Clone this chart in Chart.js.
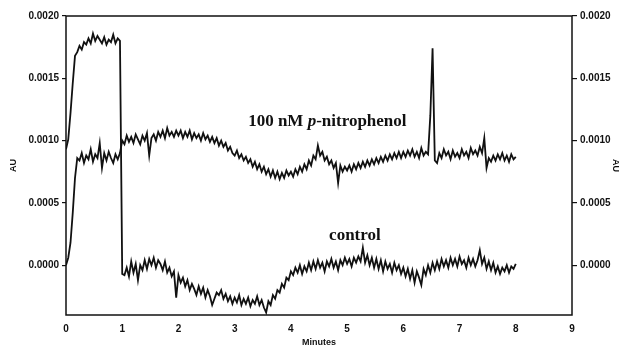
<!DOCTYPE html>
<html>
<head>
<meta charset="utf-8">
<script src="https://cdn.jsdelivr.net/npm/chart.js@4.4.0/dist/chart.umd.min.js"></script>
<style>
  html, body { margin: 0; padding: 0; background: #fff; }
  #wrap { width: 625px; height: 348px; position: relative; }
</style>
</head>
<body>
<div id="wrap"><canvas id="trace"></canvas></div>
<script>
// absorbance, in units of 1e-5 AU, one sample every 0.04 min (0 .. 8 min)
var sampleStep = 0.04;

var controlAU = [
  93,101,122,146,168,171,176,173,179,177,182,178,186,180,184,181,178,183,177,181,179,185,178,182,180,
  -7,-8,-2,-9,3,-6,1,-12,0,-4,4,-3,5,0,6,-2,4,1,-4,3,-6,-2,-9,-5,-26,
  -8,-14,-10,-17,-12,-20,-15,-19,-24,-17,-23,-18,-26,-20,-25,-32,-27,-22,-24,-20,-27,-23,-29,-25,-31,
  -26,-30,-24,-32,-27,-31,-26,-33,-28,-31,-25,-32,-28,-34,-38,-29,-32,-24,-27,-20,-22,-15,-18,-10,-12,
  -5,-8,-2,-6,0,-7,-1,-5,2,-4,3,-3,4,-2,2,-5,3,-1,5,-2,3,-4,4,0,6,
  1,5,-1,6,2,7,3,14,2,8,0,6,-2,5,-3,4,-5,3,-3,1,-6,2,-4,0,-7,
  -2,-9,-3,-11,-4,-14,-5,-10,-16,-3,-8,0,-6,2,-4,3,-3,5,-1,4,-2,6,0,5,-1,
  7,1,4,-2,6,0,5,-1,4,12,1,6,-3,3,-4,2,-6,-1,-7,-2,-5,0,-6,-1,-3,
  1
];

var nitrophenolAU = [
  0,6,18,42,70,86,84,90,82,88,85,93,83,89,86,98,78,90,84,91,86,82,89,85,90,
  100,97,104,99,103,98,105,101,97,104,100,106,88,102,105,100,107,103,108,102,110,104,107,103,108,
  104,108,102,107,103,108,101,106,102,105,100,106,101,104,99,103,98,102,96,100,95,98,92,95,90,
  88,92,86,89,84,87,82,85,79,83,77,81,75,79,73,77,71,76,70,75,69,74,70,76,72,
  75,71,77,73,79,75,81,77,84,80,88,85,96,88,91,84,87,81,84,78,82,66,80,75,79,
  76,80,75,81,77,82,78,83,79,84,80,85,81,86,82,87,83,88,84,89,85,90,86,91,86,
  91,87,92,88,93,87,91,86,94,88,91,89,120,174,84,82,90,86,93,88,91,85,92,87,90,
  86,93,88,91,86,94,89,92,88,95,90,102,78,86,83,88,84,89,85,90,84,88,83,89,85,
  87
];

var xTicks = [0, 1, 2, 3, 4, 5, 6, 7, 8, 9];
var yTicks = [0, 50, 100, 150, 200];

// labels on the traces, placed in data units (minutes, 1e-5 AU)
var nitroNote = [['100 nM ', 'bold'], ['p', 'italic bold'], ['-nitrophenol', 'bold']];
var nitroNoteAt = { x: 3.24, y: 112 };
var controlNote = [['control', 'bold']];
var controlNoteAt = { x: 4.68, y: 20 };

function toPoints(values) {
    return values.map(function (v, i) { return { x: +(i * sampleStep).toFixed(2), y: v }; });
}

var ink = '#111';
var tickFont = { family: '"Liberation Sans", Arial, sans-serif', size: 10, weight: 'bold' };
var titleFont = { family: '"Liberation Sans", Arial, sans-serif', size: 9, weight: 'bold' };

function auLabel(v) { return (v / 100000).toFixed(4); }
function keepTicks(list) {
    return function (scale) {
        scale.ticks = scale.ticks.filter(function (t) { return list.indexOf(t.value) !== -1; });
    };
}

var frameAndNotes = {
    id: 'frameAndNotes',
    afterDraw: function (chart) {
        var ctx = chart.ctx, a = chart.chartArea, sx = chart.scales.x, sy = chart.scales.y;
        ctx.save();
        ctx.strokeStyle = ink;
        ctx.lineWidth = 1.5;
        ctx.strokeRect(a.left, a.top, a.right - a.left, a.bottom - a.top);

        function note(parts, at) {
            var px = sx.getPixelForValue(at.x);
            var py = sy.getPixelForValue(at.y);
            ctx.fillStyle = ink;
            ctx.textBaseline = 'alphabetic';
            ctx.textAlign = 'left';
            parts.forEach(function (p) {
                ctx.font = p[1] + ' 17px "Liberation Serif", "Times New Roman", serif';
                ctx.fillText(p[0], px, py);
                px += ctx.measureText(p[0]).width;
            });
        }
        note(nitroNote, nitroNoteAt);
        note(controlNote, controlNoteAt);
        ctx.restore();
    }
};

var ctx = document.getElementById('trace').getContext('2d');
var chart = new Chart(ctx, {
    type: 'line',
    data: {
        datasets: [{
            label: 'control',
            data: toPoints(controlAU),
            borderColor: ink,
            borderWidth: 1.8,
            pointRadius: 0,
            tension: 0,
            fill: false
        }, {
            label: '100 nM p-nitrophenol',
            data: toPoints(nitrophenolAU),
            borderColor: ink,
            borderWidth: 1.8,
            pointRadius: 0,
            tension: 0,
            fill: false
        }]
    },
    options: {
        responsive: true,
        maintainAspectRatio: false,
        animation: false,
        layout: { padding: { top: 16, left: 0, right: 0, bottom: 0 } },
        plugins: { legend: { display: false }, tooltip: { enabled: false } },
        scales: {
            x: {
                type: 'linear',
                min: 0, max: 9,
                afterFit: function (s) { s.height = 33; },
                afterBuildTicks: keepTicks(xTicks),
                grid: { display: true, drawOnChartArea: false, drawTicks: false },
                border: { display: false },
                ticks: { stepSize: 1, color: ink, font: tickFont, padding: 8, maxRotation: 0 },
                title: { display: true, text: 'Minutes', color: ink, font: titleFont, padding: { top: 0, bottom: 0 } }
            },
            y: {
                position: 'left',
                min: -40, max: 200,
                afterFit: function (s) { s.width = 66; },
                afterBuildTicks: keepTicks(yTicks),
                grid: { drawOnChartArea: false, drawTicks: true, tickLength: 4, color: ink, lineWidth: 1.2 },
                border: { display: false },
                ticks: { stepSize: 50, color: ink, font: tickFont, padding: 3, callback: auLabel },
                title: { display: true, text: 'AU', color: ink, font: titleFont, padding: { top: 8, bottom: 0 } }
            },
            y2: {
                position: 'right',
                min: -40, max: 200,
                afterFit: function (s) { s.width = 53; },
                afterBuildTicks: keepTicks(yTicks),
                grid: { drawOnChartArea: false, drawTicks: true, tickLength: 5, color: ink, lineWidth: 1.2 },
                border: { display: false },
                ticks: { stepSize: 50, color: ink, font: tickFont, padding: 3, callback: auLabel },
                title: { display: true, text: 'AU', color: ink, font: titleFont, padding: { top: 4, bottom: 0 } }
            }
        }
    },
    plugins: [frameAndNotes]
});
</script>
</body>
</html>
